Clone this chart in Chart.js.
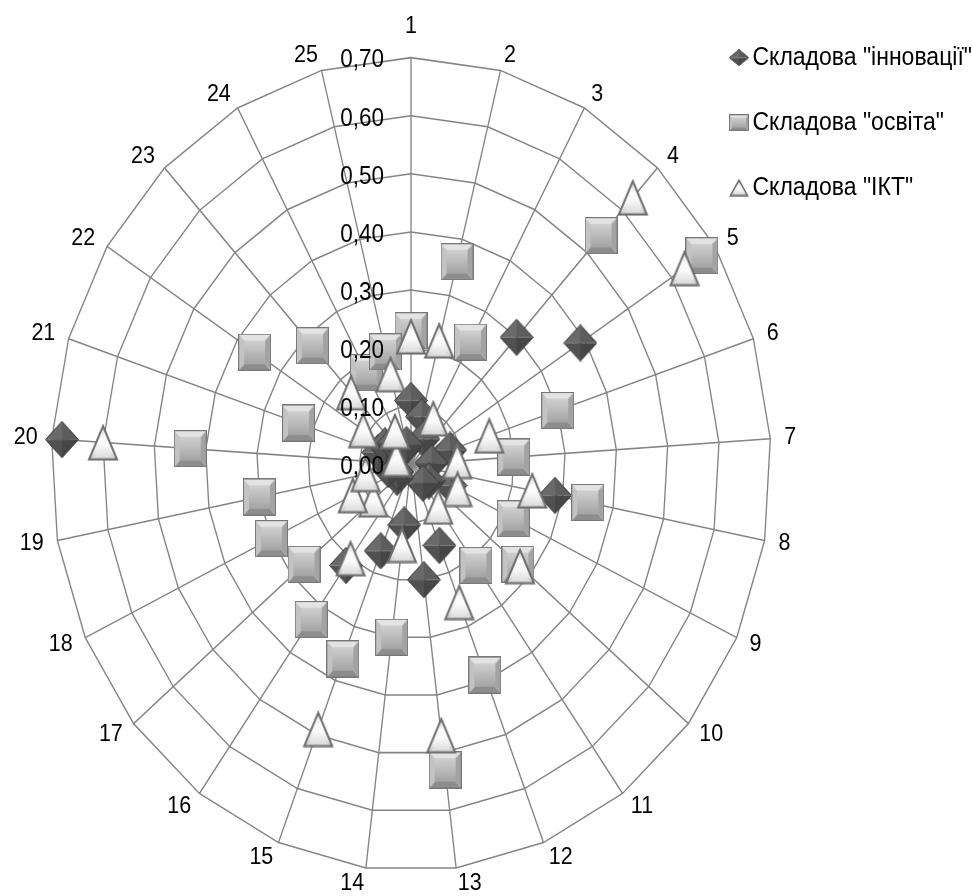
<!DOCTYPE html>
<html lang="uk">
<head>
<meta charset="utf-8">
<title>Складові</title>
<script src="https://cdn.jsdelivr.net/npm/chart.js@4.4.1/dist/chart.umd.min.js"></script>
<style>
  html, body { margin: 0; padding: 0; background: #ffffff; }
  canvas { display: block; }
</style>
</head>
<body>
<canvas id="radar" width="972" height="896"></canvas>
<script>
// ---- data ----
const categories = ['1', '2', '3', '4', '5', '6', '7', '8', '9', '10', '11', '12', '13',
                    '14', '15', '16', '17', '18', '19', '20', '21', '22', '23', '24', '25'];

const seriesNames = ['Складова "інновації"', 'Складова "освіта"', 'Складова "ІКТ"'];

const innovations = [0.11, 0.085, 0.05, 0.30, 0.39, 0.08, 0.04, 0.285, 0.085, 0.045, 0.04, 0.15, 0.20,
                     0.105, 0.16, 0.215, 0.035, 0.03, 0.045, 0.68, 0.067, 0.06, 0.05, 0.03, 0.035];

const education = [0.23, 0.36, 0.24, 0.54, 0.67, 0.30, 0.20, 0.35, 0.22, 0.27, 0.215, 0.39, 0.53,
                   0.30, 0.36, 0.33, 0.27, 0.30, 0.30, 0.43, 0.23, 0.36, 0.28, 0.18, 0.20];

const ict = [0.22, 0.22, 0.09, 0.63, 0.63, 0.16, 0.09, 0.24, 0.10, 0.275, 0.09, 0.255, 0.47,
             0.14, 0.49, 0.20, 0.095, 0.125, 0.09, 0.60, 0.03, 0.11, 0.17, 0.065, 0.16];

const tickLabels = ['0,00', '0,10', '0,20', '0,30', '0,40', '0,50', '0,60', '0,70'];

// ---- look ----
const FONT = '"Liberation Sans", Arial, sans-serif';
const AXIS_FONT = 21.5, TICK_FONT = 22.5, LEGEND_FONT = 23;
const GRID = '#848484';
const STRETCH = 896 / 793;          // the round radar is drawn taller than wide
const CENTER_X = 411, CENTER_Y = 411, RADIUS = 360;

function makeCanvas(w, h) {
  const c = document.createElement('canvas');
  c.width = w; c.height = h;
  return c;
}
function poly(g, pts, fill) {
  g.beginPath();
  g.moveTo(pts[0], pts[1]);
  for (let i = 2; i < pts.length; i += 2) g.lineTo(pts[i], pts[i + 1]);
  g.closePath();
  g.fillStyle = fill;
  g.fill();
}

// bevelled grey square
function squareMarker(w, h) {
  const c = makeCanvas(w, h), g = c.getContext('2d');
  const b = Math.max(2, Math.round(Math.min(w, h) * 0.18));
  poly(g, [0, 0, w, 0, w - b, b, b, b], '#e3e3e3');
  poly(g, [0, 0, b, b, b, h - b, 0, h], '#c3c3c3');
  poly(g, [w, 0, w, h, w - b, h - b, w - b, b], '#a3a3a3');
  poly(g, [0, h, b, h - b, w - b, h - b, w, h], '#8d8d8d');
  const gr = g.createLinearGradient(0, b, 0, h - b);
  gr.addColorStop(0, '#d0d0d0');
  gr.addColorStop(1, '#a4a4a4');
  g.fillStyle = gr;
  g.fillRect(b, b, w - 2 * b, h - 2 * b);
  g.strokeStyle = '#777777';
  g.lineWidth = 1;
  g.strokeRect(0.5, 0.5, w - 1, h - 1);
  return c;
}

// dark faceted diamond
function diamondMarker(w, h) {
  const c = makeCanvas(w, h), g = c.getContext('2d');
  const cx = w / 2, cy = h / 2, l = 0.5, t = 0.5, r = w - 0.5, bt = h - 0.5;
  poly(g, [l, cy, cx, t, cx, cy], '#6a6a6a');
  poly(g, [cx, t, r, cy, cx, cy], '#5d5d5d');
  poly(g, [r, cy, cx, bt, cx, cy], '#464646');
  poly(g, [l, cy, cx, cy, cx, bt], '#515151');
  g.beginPath();
  g.moveTo(l, cy); g.lineTo(cx, t); g.lineTo(r, cy); g.lineTo(cx, bt); g.closePath();
  g.strokeStyle = '#3a3a3a';
  g.lineWidth = 1;
  g.stroke();
  return c;
}

// white triangle with a soft grey base
function triangleMarker(w, h, lw) {
  const c = makeCanvas(w, h), g = c.getContext('2d');
  const ax = w / 2, ay = lw, lx = lw, rx = w - lw, by = h - lw * 0.75;
  const gr = g.createLinearGradient(0, ay, 0, by);
  gr.addColorStop(0, '#ffffff');
  gr.addColorStop(0.55, '#fbfbfb');
  gr.addColorStop(1, '#d9d9d9');
  g.beginPath();
  g.moveTo(ax, ay); g.lineTo(rx, by); g.lineTo(lx, by); g.closePath();
  g.fillStyle = gr;
  g.fill();
  // faint bevel towards the inner triangle
  const ix = (rx - lx) * 0.22, iy = (by - ay) * 0.22;
  g.strokeStyle = 'rgba(150,150,150,0.35)';
  g.lineWidth = 1;
  g.beginPath();
  g.moveTo(ax, ay); g.lineTo(ax, ay + iy * 1.4);
  g.moveTo(lx, by); g.lineTo(lx + ix, by - iy * 0.7);
  g.moveTo(rx, by); g.lineTo(rx - ix, by - iy * 0.7);
  g.stroke();
  g.beginPath();
  g.moveTo(ax, ay); g.lineTo(rx, by); g.lineTo(lx, by); g.closePath();
  g.strokeStyle = '#6e6e6e';
  g.lineWidth = lw;
  g.lineJoin = 'miter';
  g.stroke();
  return c;
}

const markers = [diamondMarker(34, 33), squareMarker(33, 33), triangleMarker(32, 33, 2)];
const legendIcons = [diamondMarker(20, 15), squareMarker(20, 15), triangleMarker(20, 16, 1.5)];

// right padding so the legend text ends near the canvas edge
const measureCtx = makeCanvas(10, 10).getContext('2d');
measureCtx.font = LEGEND_FONT + 'px ' + FONT;
const longestLabel = Math.max(...seriesNames.map(s => measureCtx.measureText(s).width));
const legendRightPad = Math.round(210 - longestLabel);

// vertical stretch of everything the chart draws
const stretch = {
  id: 'stretch',
  beforeDraw(chart) {
    chart.ctx.save();
    chart.ctx.scale(1, STRETCH);
  },
  afterDraw(chart) {
    chart.ctx.restore();
  }
};

// value labels along the first spoke, placed left of it
const ringLabels = {
  id: 'ringLabels',
  afterDatasetsDraw(chart) {
    const s = chart.scales.r;
    const ctx = chart.ctx;
    ctx.save();
    ctx.font = TICK_FONT + 'px ' + FONT;
    ctx.fillStyle = '#000000';
    ctx.textAlign = 'right';
    ctx.textBaseline = 'middle';
    s.ticks.forEach((t) => {
      const d = s.getDistanceFromCenterForValue(t.value);
      ctx.fillText(t.label, s.xCenter - 27, s.yCenter - d + 2.5);
    });
    ctx.restore();
  }
};

function series(i, values, order) {
  return {
    label: seriesNames[i],
    data: values,
    order: order,
    clip: false,
    showLine: false,
    fill: false,
    borderWidth: 0,
    borderColor: 'transparent',
    backgroundColor: 'transparent',
    pointStyle: markers[i],
    pointRadius: 30,
    pointHoverRadius: 30,
    pointBorderWidth: 0
  };
}

new Chart(document.getElementById('radar'), {
  type: 'radar',
  data: {
    labels: categories,
    datasets: [
      series(0, innovations, 2),
      series(1, education, 1),
      series(2, ict, 0)
    ]
  },
  options: {
    responsive: false,
    animation: false,
    devicePixelRatio: 1,
    events: [],
    layout: { padding: { top: 5, right: legendRightPad, bottom: 0, left: 0 } },
    scales: {
      r: {
        min: 0,
        max: 0.7,
        beginAtZero: true,
        beforeFit(scale) {
          scale.setCenterPoint = function () {
            this.xCenter = CENTER_X;
            this.yCenter = CENTER_Y;
            this.drawingArea = RADIUS;
          };
        },
        ticks: {
          stepSize: 0.1,
          display: false,
          callback: (v, i) => tickLabels[i]
        },
        grid: { color: GRID, lineWidth: 1.35, circular: false },
        angleLines: { display: true, color: GRID, lineWidth: 1.35 },
        pointLabels: {
          display: true,
          color: '#000000',
          font: { family: FONT, size: AXIS_FONT, lineHeight: 0.01 },
          padding: (ctx) => (ctx.index === 0 ? 28 : 14)
        }
      }
    },
    plugins: {
      tooltip: { enabled: false },
      legend: {
        position: 'right',
        align: 'start',
        labels: {
          usePointStyle: true,
          pointStyleWidth: 4,
          padding: 34.5,
          color: '#000000',
          font: { family: FONT, size: LEGEND_FONT },
          sort: (a, b) => a.datasetIndex - b.datasetIndex,
          generateLabels(chart) {
            const items = Chart.defaults.plugins.legend.labels.generateLabels(chart);
            items.forEach((it) => { it.pointStyle = legendIcons[it.datasetIndex]; });
            return items;
          }
        }
      }
    }
  },
  plugins: [stretch, ringLabels]
});
</script>
</body>
</html>
